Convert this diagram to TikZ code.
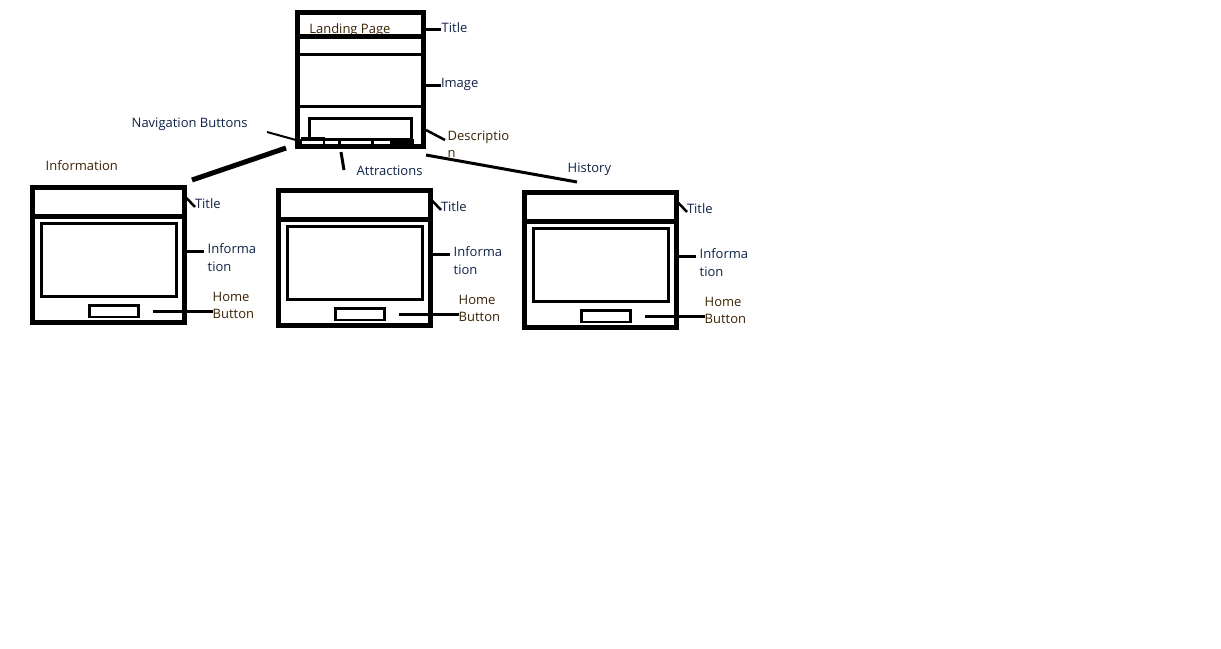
\documentclass[tikz,border=0pt]{standalone}
\usepackage{fontspec}
\setmainfont{Open Sans}
\definecolor{navytxt}{RGB}{15,35,70}
\definecolor{browntxt}{RGB}{60,35,5}
\tikzset{
  frame/.style={draw=black, line width=5pt, anchor=north west, inner sep=0pt, outer sep=0pt},
  lbl/.style={anchor=base west, inner sep=0pt, outer sep=0pt, font=\fontsize{13}{16}\selectfont},
  thick5/.style={line width=5pt},
  thick3/.style={line width=3pt},
}
\newcommand\wfsubpage[3]{%
  \begin{scope}[shift={(#2,#3)}]
    \node[frame, minimum width=151.5pt, minimum height=135.5pt] (#1-outer) at (32.5,187) {};
    \draw[thick5] (32.5,216) -- (184,216);
    \node[frame, line width=3pt, minimum width=135pt, minimum height=73.5pt] (#1-inner) at (41,223) {};
    \node[frame, line width=2.5pt, minimum width=49pt, minimum height=11.5pt] (#1-home) at (89.5,305.5) {};
    \node[lbl, text=navytxt] (#1-title) at (195,208.8) {Title};
    \node[lbl, text=navytxt] (#1-infoa) at (207.7,253.2) {Informa};
    \node[lbl, text=navytxt] (#1-infob) at (207.7,271.2) {tion};
    \node[lbl, text=browntxt] (#1-homea) at (212.7,301.2) {Home};
    \node[lbl, text=browntxt] (#1-homeb) at (212.7,318.8) {Button};
    \coordinate (#1-tl1) at (186.5,198);
    \coordinate (#1-tl2) at (195,207);
    \coordinate (#1-il1) at (186.5,251.7);
    \coordinate (#1-il2) at (203.5,251.7);
    \coordinate (#1-hl1) at (153,311.7);
    \coordinate (#1-hl2) at (213,311.7);
    \draw[line width=2.5pt] (#1-tl1) -- (#1-tl2);
    \draw[thick3] (#1-il1) -- (#1-il2);
    \draw[thick3] (#1-hl1) -- (#1-hl2);
  \end{scope}}
\begin{document}
\begin{tikzpicture}[x=1pt,y=-1pt]
\useasboundingbox[fill=white] (0,0) rectangle (1221,648);

% landing page
\node[lbl, text=browntxt] (landtitle) at (309.3,33.8) {Landing Page};
\node[frame, minimum width=125.5pt, minimum height=134pt] (land) at (297.5,12) {};
\draw[thick5] (297.5,36.5) -- (423,36.5);
\draw[thick3] (297.5,54.5) -- (423,54.5);
\draw[thick3] (297.5,106.5) -- (423,106.5);
\node[frame, line width=3pt, minimum width=102pt, minimum height=21pt] (desc) at (309,118) {};
% navigation buttons
\fill (301,137) rectangle (325,139);
\fill (300,139) rectangle (414,146);
\fill[white] (302,140.7) rectangle (323,144.3);
\fill[white] (325,140.7) rectangle (338,144.3);
\fill[white] (341,140.7) rectangle (371,144.3);
\fill[white] (374,140.7) rectangle (390,144.3);
\coordinate (navbtn) at (296,140);

% landing labels
\node[lbl, text=navytxt] (ltitle) at (441.7,32.2) {Title};
\node[lbl, text=navytxt] (limage) at (441,87.8) {Image};
\node[lbl, text=browntxt] (ldesca) at (447.7,140.5) {Descriptio};
\node[lbl, text=browntxt] (ldescb) at (447.7,157) {n};
\node[lbl, text=navytxt] (lnav) at (131.7,127.2) {Navigation Buttons};

\coordinate (lt1) at (425.5,29.2);
\coordinate (lt2) at (441,29.2);
\coordinate (li1) at (425.5,85.5);
\coordinate (li2) at (441,85.5);
\coordinate (ld1) at (426,130);
\coordinate (ld2) at (445,140);
\coordinate (ln1) at (267,132);
\draw[thick3] (lt1) -- (lt2);
\draw[thick3] (li1) -- (li2);
\draw[line width=2.5pt] (ld1) -- (ld2);
\draw[line width=2pt] (ln1) -- (navbtn);

% sub pages
\wfsubpage{info}{0}{0}
\wfsubpage{attr}{246}{3}
\wfsubpage{hist}{492}{5}

\node[lbl, text=browntxt] (capinfo) at (45.7,170.5) {Information};
\node[lbl, text=navytxt] (capattr) at (356.7,175.5) {Attractions};
\node[lbl, text=navytxt] (caphist) at (567.7,172.2) {History};

% connectors from landing page
\coordinate (c1a) at (286,148);
\coordinate (c1b) at (192,180);
\coordinate (c2a) at (341,152);
\coordinate (c2b) at (344,170);
\coordinate (c3a) at (426,155);
\coordinate (c3b) at (577,182);
\draw[thick5] (c1a) -- (c1b);
\draw[thick3] (c2a) -- (c2b);
\draw[thick3] (c3a) -- (c3b);
\end{tikzpicture}
\end{document}
